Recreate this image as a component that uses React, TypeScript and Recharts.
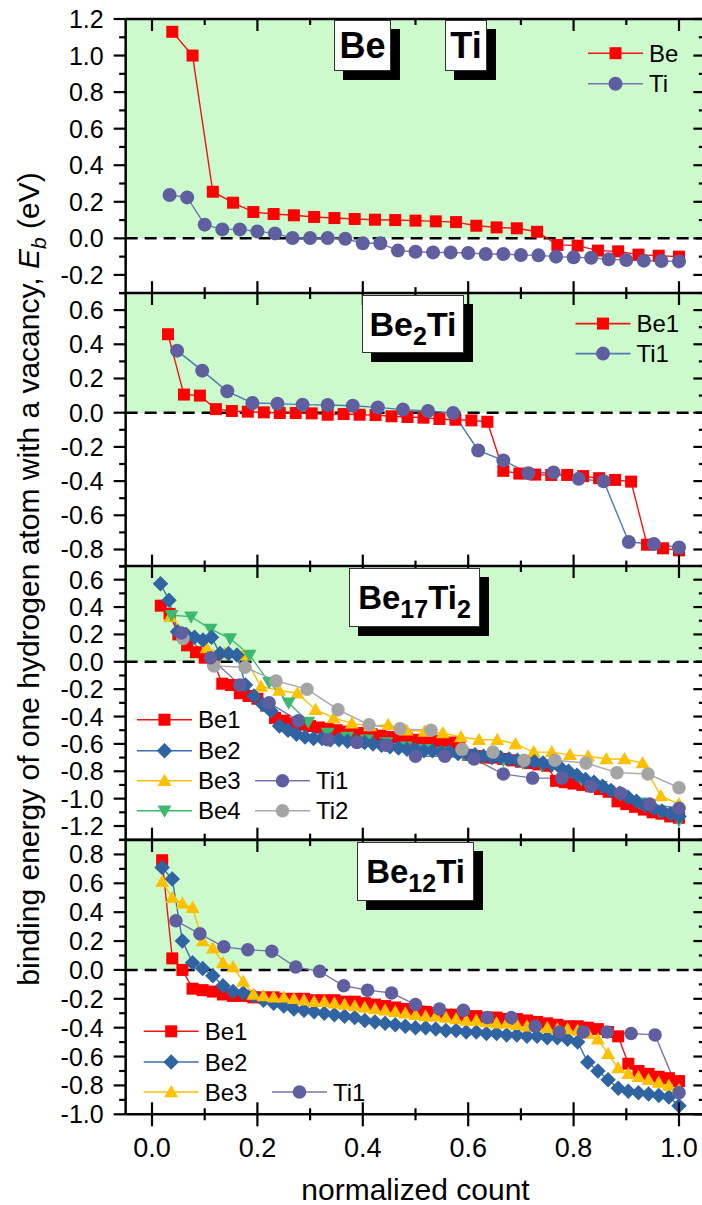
import React from "react";
import {
  LineChart,
  Line,
  XAxis,
  YAxis,
  ReferenceArea,
  ReferenceLine,
  Legend,
} from "recharts";

const FONT = '"Liberation Sans", Arial, Helvetica, sans-serif';
const GREEN_BG = "#ccfacc";

// axis ticks
const X_TICKS = [0, 0.1, 0.2, 0.3, 0.4, 0.5, 0.6, 0.7, 0.8, 0.9, 1.0];
const Y_TICKS_1 = [-0.3, -0.2, -0.1, 0, 0.1, 0.2, 0.3, 0.4, 0.5, 0.6, 0.7, 0.8, 0.9, 1.0, 1.1, 1.2];
const Y_TICKS_2 = [-0.9, -0.8, -0.7, -0.6, -0.5, -0.4, -0.3, -0.2, -0.1, 0, 0.1, 0.2, 0.3, 0.4, 0.5, 0.6, 0.7];
const Y_TICKS_3 = [-1.3, -1.2, -1.1, -1.0, -0.9, -0.8, -0.7, -0.6, -0.5, -0.4, -0.3, -0.2, -0.1, 0, 0.1, 0.2, 0.3, 0.4, 0.5, 0.6, 0.7];
const Y_TICKS_4 = [-1.0, -0.9, -0.8, -0.7, -0.6, -0.5, -0.4, -0.3, -0.2, -0.1, 0, 0.1, 0.2, 0.3, 0.4, 0.5, 0.6, 0.7, 0.8, 0.9];

// Be | Ti
const P1_BE = [1.13, 1.0, 0.255, 0.195, 0.144, 0.133, 0.126, 0.117, 0.111, 0.106, 0.102, 0.1, 0.097, 0.093, 0.089, 0.069, 0.06, 0.055, 0.036, -0.036, -0.04, -0.067, -0.071, -0.089, -0.095, -0.1];
const P1_TI = [0.237, 0.224, 0.075, 0.049, 0.049, 0.038, 0.027, 0.002, 0.002, 0.002, -0.002, -0.027, -0.027, -0.067, -0.073, -0.077, -0.077, -0.08, -0.086, -0.086, -0.091, -0.093, -0.1, -0.104, -0.106, -0.115, -0.119, -0.122, -0.124, -0.126];

// Be2Ti
const P2_BE1 = [0.459, 0.106, 0.1, 0.021, 0.01, 0.006, 0.002, -0.002, -0.002, -0.004, -0.012, -0.008, -0.012, -0.014, -0.021, -0.025, -0.029, -0.037, -0.041, -0.045, -0.053, -0.34, -0.356, -0.362, -0.364, -0.364, -0.371, -0.383, -0.393, -0.403, -0.772, -0.793, -0.805];
const P2_TI1 = [0.363, 0.246, 0.125, 0.057, 0.053, 0.047, 0.045, 0.041, 0.031, 0.018, 0.01, -0.002, -0.221, -0.279, -0.354, -0.35, -0.387, -0.401, -0.756, -0.768, -0.788];

// Be17Ti2
const P3_BE1 = [0.41, 0.35, 0.2, 0.12, 0.07, 0.03, 0.0, -0.16, -0.17, -0.23, -0.25, -0.27, -0.32, -0.41, -0.43, -0.45, -0.46, -0.47, -0.48, -0.49, -0.5, -0.51, -0.52, -0.52, -0.53, -0.54, -0.55, -0.55, -0.56, -0.57, -0.57, -0.58, -0.58, -0.59, -0.6, -0.68, -0.69, -0.7, -0.7, -0.71, -0.72, -0.73, -0.74, -0.75, -0.76, -0.87, -0.88, -0.89, -0.9, -0.91, -0.93, -0.95, -1.02, -1.04, -1.06, -1.08, -1.1, -1.11, -1.13, -1.14];
const P3_BE2 = [0.57, 0.45, 0.22, 0.2, 0.18, 0.16, 0.18, 0.06, 0.06, 0.05, -0.17, -0.25, -0.31, -0.36, -0.47, -0.5, -0.53, -0.55, -0.56, -0.56, -0.57, -0.57, -0.58, -0.58, -0.59, -0.6, -0.61, -0.62, -0.63, -0.64, -0.64, -0.65, -0.65, -0.66, -0.66, -0.67, -0.67, -0.68, -0.69, -0.7, -0.7, -0.71, -0.72, -0.73, -0.73, -0.74, -0.75, -0.77, -0.8, -0.83, -0.86, -0.88, -0.91, -0.94, -0.96, -0.99, -1.02, -1.05, -1.07, -1.09, -1.11, -1.13];
const P3_BE3 = [0.33, 0.2, 0.1, 0.06, 0.05, -0.18, -0.21, -0.23, -0.35, -0.41, -0.45, -0.47, -0.46, -0.5, -0.51, -0.52, -0.55, -0.57, -0.57, -0.6, -0.66, -0.66, -0.68, -0.69, -0.71, -0.71, -0.74, -0.98, -1.04];
const P3_BE4 = [0.34, 0.33, 0.24, 0.17, 0.05, -0.15, -0.3, -0.44, -0.52, -0.55, -0.57, -0.59, -0.62, -0.64, -0.66, -0.68, -0.7, -0.72, -0.74, -0.76, -0.8, -0.86, -0.91, -0.97, -1.03, -1.09, -1.16];
const P3_TI1 = [0.21, 0.03, -0.17, -0.3, -0.43, -0.57, -0.59, -0.61, -0.69, -0.69, -0.71, -0.82, -0.85, -0.85, -0.91, -0.96, -1.04, -1.07];
const P3_TI2 = [0.17, -0.03, -0.04, -0.14, -0.2, -0.35, -0.46, -0.49, -0.5, -0.64, -0.66, -0.72, -0.72, -0.74, -0.81, -0.82, -0.92];

// Be12Ti
const P4_BE1 = [0.76, 0.08, 0.0, -0.13, -0.14, -0.15, -0.17, -0.18, -0.18, -0.19, -0.19, -0.19, -0.2, -0.2, -0.2, -0.21, -0.21, -0.21, -0.22, -0.22, -0.23, -0.24, -0.25, -0.26, -0.27, -0.28, -0.29, -0.3, -0.31, -0.31, -0.32, -0.32, -0.33, -0.33, -0.34, -0.34, -0.35, -0.36, -0.37, -0.38, -0.39, -0.39, -0.4, -0.41, -0.43, -0.46, -0.65, -0.7, -0.72, -0.74, -0.75, -0.77];
const P4_BE2 = [0.71, 0.63, 0.2, 0.05, 0.01, -0.04, -0.11, -0.15, -0.16, -0.18, -0.21, -0.23, -0.25, -0.27, -0.28, -0.29, -0.3, -0.31, -0.32, -0.33, -0.35, -0.36, -0.37, -0.38, -0.39, -0.4, -0.4, -0.41, -0.42, -0.42, -0.43, -0.43, -0.44, -0.44, -0.45, -0.45, -0.46, -0.46, -0.47, -0.47, -0.48, -0.5, -0.64, -0.7, -0.76, -0.82, -0.84, -0.85, -0.86, -0.87, -0.88, -0.94];
const P4_BE3 = [0.61, 0.5, 0.46, 0.43, 0.2, 0.15, 0.05, 0.02, -0.08, -0.17, -0.18, -0.19, -0.19, -0.2, -0.21, -0.22, -0.22, -0.23, -0.24, -0.25, -0.26, -0.27, -0.28, -0.29, -0.3, -0.31, -0.32, -0.32, -0.33, -0.34, -0.35, -0.35, -0.36, -0.37, -0.37, -0.38, -0.39, -0.39, -0.4, -0.41, -0.41, -0.42, -0.44, -0.48, -0.58, -0.68, -0.72, -0.74, -0.76, -0.78, -0.8, -0.83];
const P4_TI1 = [0.34, 0.25, 0.16, 0.14, 0.13, 0.02, -0.01, -0.11, -0.14, -0.16, -0.24, -0.27, -0.28, -0.33, -0.33, -0.39, -0.43, -0.43, -0.43, -0.44, -0.45, -0.85];

type Shape = "square" | "circle" | "diamond" | "up" | "down";

interface Series {
  name: string;
  values: number[];
  shape: Shape;
  fill: string;
  line: string;
  size: number;
}

const mk = (name: string, values: number[], shape: Shape, fill: string, line: string, size: number): Series => ({
  name, values, shape, fill, line, size,
});

// x is the normalized count i/N
const toPoints = (values: number[]) =>
  values.map((y, i) => ({ x: (i + 1) / values.length, y }));

const RED = "#ff0000";
const SLATE = "#5f5f9f";
const BLUE = "#2f63a1";
const GOLD = "#ffc000";
const GREEN = "#3cb96e";
const GREY = "#a4a4a4";

const CHART_W = 720;
const PLOT_L = 125.65;
const PLOT_W = 579.7;
const AXIS_H = 1; // an axis of height 0 is not drawn at all

const isMajor = (v: number) => Math.round(v * 10) % 2 === 0;

function Marker({ cx, cy, shape, fill, size }: any) {
  const r = size / 2;
  if (cx == null || cy == null) return null;
  switch (shape) {
    case "square":
      return <rect x={cx - r} y={cy - r} width={size} height={size} fill={fill} />;
    case "circle":
      return <circle cx={cx} cy={cy} r={r} fill={fill} />;
    case "diamond":
      return <polygon points={`${cx},${cy - r} ${cx + r},${cy} ${cx},${cy + r} ${cx - r},${cy}`} fill={fill} />;
    case "up":
      return <polygon points={`${cx},${cy - r} ${cx + r},${cy + r * 0.75} ${cx - r},${cy + r * 0.75}`} fill={fill} />;
    default:
      return <polygon points={`${cx},${cy + r} ${cx + r},${cy - r * 0.75} ${cx - r},${cy - r * 0.75}`} fill={fill} />;
  }
}

function XTick(props: any) {
  const { x, y, payload, h, outer } = props;
  const v = payload.value as number;
  const len = isMajor(v) ? 12 : 6;
  return (
    <g>
      <line x1={x} x2={x} y1={y} y2={y - len} stroke="#000" strokeWidth={2.2} />
      <line x1={x} x2={x} y1={y - h} y2={y - h + len} stroke="#000" strokeWidth={2.2} />
      {outer && <line x1={x} x2={x} y1={y} y2={y + len} stroke="#000" strokeWidth={2.2} />}
      {outer && isMajor(v) && (
        <text x={x} y={y + 43} textAnchor="middle" fontSize={27} fontFamily={FONT} fill="#000">
          {v.toFixed(1)}
        </text>
      )}
    </g>
  );
}

function YTick(props: any) {
  const { x, y, payload } = props;
  const v = payload.value as number;
  const major = isMajor(v);
  const len = major ? 12 : 6.5;
  return (
    <g>
      <line x1={x} x2={x - len} y1={y} y2={y} stroke="#000" strokeWidth={2.2} />
      <line x1={x + PLOT_W} x2={x + PLOT_W - len} y1={y} y2={y} stroke="#000" strokeWidth={2.2} />
      {major && (
        <text x={x - 22} y={y} dy="0.36em" textAnchor="end" fontSize={25} fontFamily={FONT} fill="#000">
          {v.toFixed(1)}
        </text>
      )}
    </g>
  );
}

interface LegendItem {
  s: Series;
  lx: number;
  y: number;
}

interface PanelCfg {
  top: number;
  h: number;
  domain: [number, number];
  ticks: number[];
  series: Series[];
  legend: LegendItem[];
}

const p1Be = mk("Be", P1_BE, "square", RED, "#f01414", 12);
const p1Ti = mk("Ti", P1_TI, "circle", SLATE, "#7676ae", 14);
const p2Be1 = mk("Be1", P2_BE1, "square", RED, "#f01414", 12);
const p2Ti1 = mk("Ti1", P2_TI1, "circle", SLATE, "#4c7bb4", 14);
const p3Be1 = mk("Be1", P3_BE1, "square", RED, "#f01414", 12);
const p3Be2 = mk("Be2", P3_BE2, "diamond", BLUE, "#3a70b2", 15.5);
const p3Be3 = mk("Be3", P3_BE3, "up", GOLD, GOLD, 14);
const p3Be4 = mk("Be4", P3_BE4, "down", GREEN, GREEN, 14);
const p3Ti1 = mk("Ti1", P3_TI1, "circle", SLATE, "#7676ae", 13.5);
const p3Ti2 = mk("Ti2", P3_TI2, "circle", GREY, "#a8a8a8", 13.5);
const p4Be1 = mk("Be1", P4_BE1, "square", RED, "#f01414", 12);
const p4Be2 = mk("Be2", P4_BE2, "diamond", BLUE, "#3a70b2", 15.5);
const p4Be3 = mk("Be3", P4_BE3, "up", GOLD, GOLD, 14);
const p4Ti1 = mk("Ti1", P4_TI1, "circle", SLATE, "#7676ae", 13.5);

const PANELS: PanelCfg[] = [
  {
    top: 18.5, h: 274.2, domain: [-0.3, 1.2], ticks: Y_TICKS_1,
    series: [p1Be, p1Ti],
    legend: [
      { s: p1Be, lx: 588, y: 52.7 },
      { s: p1Ti, lx: 588, y: 83.3 },
    ],
  },
  {
    top: 292.7, h: 273.6, domain: [-0.9, 0.7], ticks: Y_TICKS_2,
    series: [p2Be1, p2Ti1],
    legend: [
      { s: p2Be1, lx: 575.5, y: 323.3 },
      { s: p2Ti1, lx: 575.5, y: 353.3 },
    ],
  },
  {
    top: 566.3, h: 273.7, domain: [-1.3, 0.7], ticks: Y_TICKS_3,
    series: [p3Be1, p3Be3, p3Be4, p3Be2, p3Ti2, p3Ti1],
    legend: [
      { s: p3Be1, lx: 137, y: 720 },
      { s: p3Be2, lx: 137, y: 751 },
      { s: p3Be3, lx: 137, y: 781 },
      { s: p3Be4, lx: 137, y: 811 },
      { s: p3Ti1, lx: 255, y: 781 },
      { s: p3Ti2, lx: 255, y: 811 },
    ],
  },
  {
    top: 840, h: 274.3, domain: [-1.0, 0.9], ticks: Y_TICKS_4,
    series: [p4Be1, p4Be2, p4Be3, p4Ti1],
    legend: [
      { s: p4Be1, lx: 143.7, y: 1031.3 },
      { s: p4Be2, lx: 143.7, y: 1062 },
      { s: p4Be3, lx: 143.7, y: 1092 },
      { s: p4Ti1, lx: 272, y: 1092 },
    ],
  },
];

function Panel({ cfg, last }: { cfg: PanelCfg; last: boolean }) {
  const mt = 18;
  const mb = last ? 92 : 12;
  const chartH = cfg.h + mt + mb + AXIS_H;
  const origin = cfg.top - mt;
  return (
    <div style={{ position: "absolute", left: 0, top: origin }}>
      <LineChart
        width={CHART_W}
        height={chartH}
        margin={{ top: mt, right: CHART_W - PLOT_L - PLOT_W, bottom: mb, left: 0 }}
      >
        <ReferenceArea y1={0} y2={cfg.domain[1]} fill={GREEN_BG} fillOpacity={1} stroke="none" />
        <ReferenceLine y={0} stroke="#000" strokeWidth={2.5} strokeDasharray="12 7" />
        <ReferenceLine y={cfg.domain[1]} stroke="#000" strokeWidth={2.5} />
        <XAxis
          type="number"
          dataKey="x"
          domain={[-0.05, 1.05]}
          ticks={X_TICKS}
          interval={0}
          height={AXIS_H}
          tickSize={0}
          tickMargin={0}
          allowDataOverflow
          axisLine={{ stroke: "#000", strokeWidth: 2.5 }}
          tickLine={false}
          tick={(p: any) => <XTick {...p} h={cfg.h} outer={last} />}
          label={
            last
              ? { value: "normalized count", position: "bottom", offset: 63, fontSize: 30, fill: "#000", fontFamily: FONT }
              : undefined
          }
        />
        <YAxis
          type="number"
          domain={cfg.domain}
          ticks={cfg.ticks}
          interval={0}
          width={PLOT_L}
          tickSize={0}
          tickMargin={0}
          allowDataOverflow
          axisLine={{ stroke: "#000", strokeWidth: 2.5 }}
          tickLine={false}
          tick={(p: any) => <YTick {...p} />}
        />
        {cfg.series.map((s) => (
          <Line
            key={s.name}
            data={toPoints(s.values)}
            dataKey="y"
            name={s.name}
            type="linear"
            stroke={s.line}
            strokeWidth={1.4}
            isAnimationActive={false}
            activeDot={false}
            dot={(p: any) => (
              <Marker key={`${s.name}-${p.index}`} cx={p.cx} cy={p.cy} shape={s.shape} fill={s.fill} size={s.size} />
            )}
          />
        ))}
        <Legend
          layout="vertical"
          verticalAlign="middle"
          align="center"
          wrapperStyle={{ left: 0, top: 0, width: CHART_W, height: chartH, pointerEvents: "none" }}
          content={() => (
            <svg width={CHART_W} height={chartH} style={{ position: "absolute", left: 0, top: 0 }}>
              {cfg.legend.map((it) => {
                const y = it.y - origin;
                return (
                  <g key={it.s.name}>
                    <line x1={it.lx} x2={it.lx + 55} y1={y} y2={y} stroke={it.s.line} strokeWidth={1.6} />
                    <Marker cx={it.lx + 27.5} cy={y} shape={it.s.shape} fill={it.s.fill} size={it.s.size} />
                    <text x={it.lx + 61} y={y} dy="0.36em" fontSize={24} fontFamily={FONT} fill="#000">
                      {it.s.name}
                    </text>
                  </g>
                );
              })}
            </svg>
          )}
        />
      </LineChart>
    </div>
  );
}

function Tag({ left, top, w, h, size, children }: any) {
  return (
    <div
      style={{
        position: "absolute",
        left,
        top,
        width: w,
        height: h,
        boxSizing: "border-box",
        background: "#fff",
        border: "1.5px solid #333",
        boxShadow: "9px 9px 0 #000",
        display: "flex",
        alignItems: "center",
        justifyContent: "center",
        fontFamily: FONT,
        fontWeight: "bold",
        fontSize: size,
        lineHeight: 1,
        color: "#000",
      }}
    >
      <span>{children}</span>
    </div>
  );
}

const Sub = ({ children }: any) => (
  <span style={{ fontSize: 25, position: "relative", top: 9 }}>{children}</span>
);

export default function App() {
  return (
    <div
      style={{
        position: "absolute",
        left: 0,
        top: 0,
        width: 702,
        height: 1205,
        overflow: "hidden",
        background: "#fff",
      }}
    >
      {PANELS.map((cfg, i) => (
        <Panel key={i} cfg={cfg} last={i === PANELS.length - 1} />
      ))}

      <Tag left={334} top={20} w={57} h={51} size={36}>Be</Tag>
      <Tag left={445} top={20} w={42} h={51} size={36}>Ti</Tag>
      <Tag left={362} top={295} w={102} h={58} size={34}>
        Be<Sub>2</Sub>Ti
      </Tag>
      <Tag left={349} top={568} w={131} h={59} size={33}>
        Be<Sub>17</Sub>Ti<Sub>2</Sub>
      </Tag>
      <Tag left={357} top={842} w={117} h={59} size={33}>
        Be<Sub>12</Sub>Ti
      </Tag>

      <svg
        width={702}
        height={1205}
        style={{ position: "absolute", left: 0, top: 0, pointerEvents: "none" }}
      >
        <text
          transform="translate(39, 579) rotate(-90)"
          textAnchor="middle"
          fontSize={30}
          fontFamily={FONT}
          fill="#000"
        >
          binding energy of one hydrogen atom with a vacancy,{" "}
          <tspan fontStyle="italic">E</tspan>
          <tspan fontStyle="italic" fontSize={21} dy={7}>b</tspan>
          <tspan dy={-7}> (eV)</tspan>
        </text>
      </svg>
    </div>
  );
}
